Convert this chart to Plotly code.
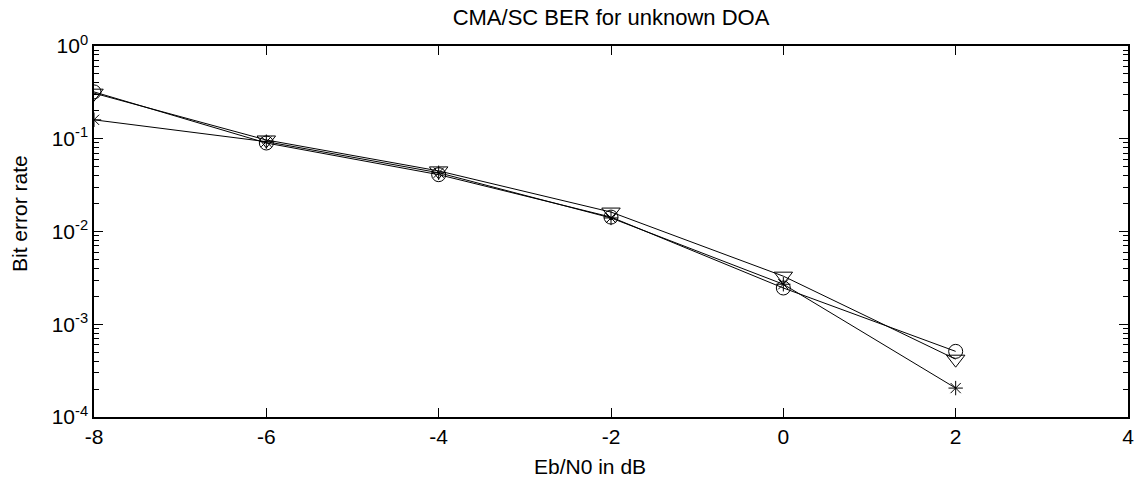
import plotly.graph_objects as go

ebn0 = [-8, -6, -4, -2, 0, 2]
ber_circle = [0.32, 0.090, 0.041, 0.0143, 0.00246, 0.00051]
ber_triangle = [0.31, 0.097, 0.045, 0.0162, 0.0033, 0.00042]
ber_star = [0.160, 0.093, 0.043, 0.0140, 0.0027, 0.000205]

y_tickvals = [1e-4, 1e-3, 1e-2, 1e-1, 1e0]
y_ticktext = ["10<sup>-4</sup>", "10<sup>-3</sup>", "10<sup>-2</sup>", "10<sup>-1</sup>", "10<sup>0</sup>"]
x_tickvals = [-8, -6, -4, -2, 0, 2, 4]
x_ticktext = ["-8", "-6", "-4", "-2", "0", "2", "4"]

minor_vals = [m * 10.0 ** e for e in range(-4, 0) for m in range(2, 10)]

FAM = "Liberation Sans, Arial, sans-serif"

fig = go.Figure()
line = dict(color="black", width=1)
fig.add_trace(go.Scatter(x=ebn0, y=ber_circle, mode="lines+markers", line=line,
                         marker=dict(symbol="circle-open", size=14, color="black", line=dict(width=1))))
fig.add_trace(go.Scatter(x=ebn0, y=ber_triangle, mode="lines+markers", line=line,
                         marker=dict(symbol="triangle-down-open", size=16, color="black", line=dict(width=1))))
fig.add_trace(go.Scatter(x=ebn0, y=ber_star, mode="lines+markers", line=line,
                         marker=dict(symbol="asterisk-open", size=12, color="black", line=dict(width=1))))

fig.update_layout(
    width=1141, height=483,
    margin=dict(l=94, r=13, t=46, b=66, autoexpand=False),
    paper_bgcolor="white", plot_bgcolor="white",
    showlegend=False,
    font=dict(family=FAM, size=21, color="black"),
    title=dict(text="CMA/SC BER for unknown DOA", x=0.5, xref="paper", xanchor="center",
               yref="container", y=1 - 17 / 483, yanchor="middle",
               font=dict(family=FAM, size=22, color="black")),
    annotations=[
        dict(text="Eb/N0 in dB", xref="paper", yref="paper", x=(590 - 94) / 1034, y=(417 - 467) / 371,
             xanchor="center", yanchor="middle", showarrow=False,
             font=dict(family=FAM, size=21, color="black")),
        dict(text="Bit error rate", xref="paper", yref="paper", x=(19 - 94) / 1034, y=(417 - 214) / 371,
             xanchor="center", yanchor="middle", textangle=-90, showarrow=False,
             font=dict(family=FAM, size=21, color="black")),
    ],
)
fig.update_xaxes(range=[-8, 4], tickvals=x_tickvals, ticktext=x_ticktext, ticks="inside", ticklen=9, tickwidth=1,
                 tickcolor="black", showline=True, linecolor="black", linewidth=1.5, mirror="ticks",
                 showgrid=False, zeroline=False, automargin=False,
                 tickfont=dict(family=FAM, size=21, color="black"))
fig.update_yaxes(type="log", range=[-4, 0], tickvals=y_tickvals, ticktext=y_ticktext,
                 ticks="inside", ticklen=9, tickwidth=1, tickcolor="black",
                 showline=True, linecolor="black", linewidth=1.5, mirror="ticks",
                 showgrid=False, zeroline=False, automargin=False,
                 minor=dict(tickvals=minor_vals, ticks="inside", ticklen=5, tickcolor="black", showgrid=False),
                 tickfont=dict(family=FAM, size=21, color="black"))

fig.write_html("out.html", config={"displayModeBar": False},
               post_script="document.body.style.margin='0px';")
